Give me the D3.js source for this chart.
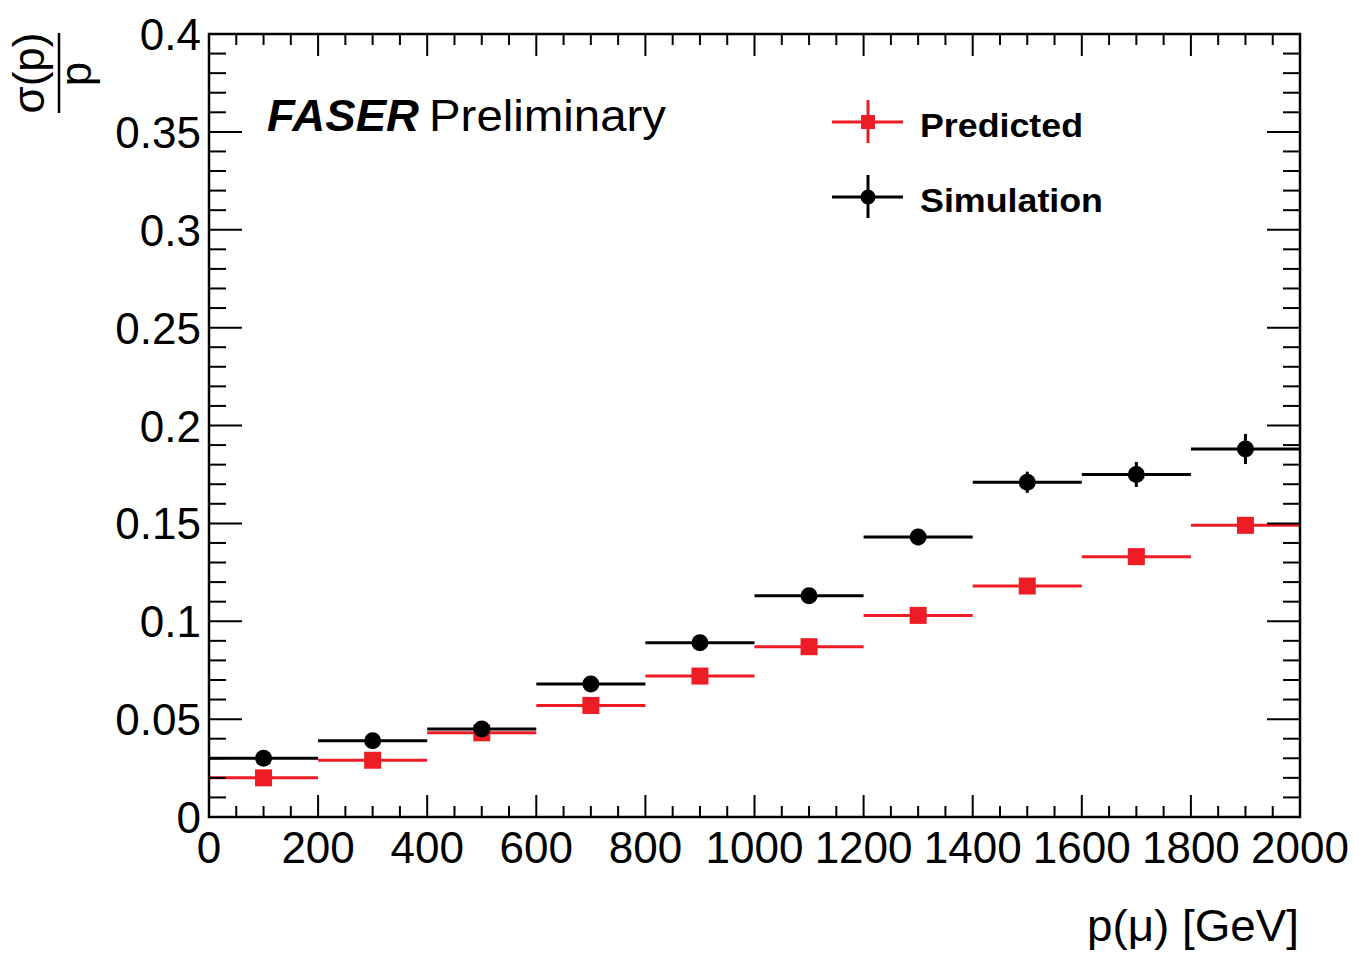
<!DOCTYPE html>
<html>
<head>
<meta charset="utf-8">
<script src="https://cdn.jsdelivr.net/npm/d3@7"></script>
<style>
  html, body { margin: 0; padding: 0; background: #ffffff; }
  svg { display: block; }
  text { font-family: "Liberation Sans", Arial, Helvetica, sans-serif; fill: #000; }
</style>
</head>
<body>
<svg id="chart" width="1359" height="954"></svg>
<script>
// ---------------- data ----------------
const binLow  = [0, 200, 400, 600, 800, 1000, 1200, 1400, 1600, 1800];
const binHigh = [200, 400, 600, 800, 1000, 1200, 1400, 1600, 1800, 2000];
const binCenter = [100, 300, 500, 700, 900, 1100, 1300, 1500, 1700, 1900];

const predicted    = [0.020, 0.029, 0.043, 0.057, 0.072, 0.087, 0.103, 0.118, 0.133, 0.149];
const predictedErr = [0, 0, 0, 0, 0, 0, 0, 0, 0, 0];
const simulation    = [0.030, 0.039, 0.045, 0.068, 0.089, 0.113, 0.143, 0.171, 0.175, 0.188];
const simulationErr = [0.001, 0.0015, 0.002, 0.0025, 0.003, 0.0035, 0.0042, 0.0054, 0.0064, 0.0077];

const xTickLabels = [0, 200, 400, 600, 800, 1000, 1200, 1400, 1600, 1800, 2000];
const yTickLabels = [0, 0.05, 0.1, 0.15, 0.2, 0.25, 0.3, 0.35, 0.4];
const xMinorStep = 50;
const yMinorStep = 0.01;

const seriesNames = ["Predicted", "Simulation"];
const RED = "#ee1c24";
const BLACK = "#000000";

// ---------------- layout ----------------
const svg = d3.select("#chart");
const pLeft = 209, pRight = 1300, pTop = 34, pBottom = 817;

const x = d3.scaleLinear().domain([0, 2000]).range([pLeft, pRight]);
const y = d3.scaleLinear().domain([0, 0.4]).range([pBottom, pTop]);

const rows = binLow.map((lo, i) => ({
  lo, hi: binHigh[i], c: binCenter[i],
  pv: predicted[i], pe: predictedErr[i],
  sv: simulation[i], se: simulationErr[i]
}));

// ---------------- Predicted series (red squares) ----------------
const gP = svg.append("g");
gP.selectAll("line.h").data(rows).join("line")
  .attr("x1", d => x(d.lo)).attr("x2", d => x(d.hi))
  .attr("y1", d => y(d.pv)).attr("y2", d => y(d.pv))
  .attr("stroke", RED).attr("stroke-width", 3);
gP.selectAll("line.v").data(rows.filter(d => d.pe > 0)).join("line")
  .attr("x1", d => x(d.c)).attr("x2", d => x(d.c))
  .attr("y1", d => y(d.pv - d.pe)).attr("y2", d => y(d.pv + d.pe))
  .attr("stroke", RED).attr("stroke-width", 3);
const sq = 17;
gP.selectAll("rect").data(rows).join("rect")
  .attr("x", d => x(d.c) - sq / 2).attr("y", d => y(d.pv) - sq / 2)
  .attr("width", sq).attr("height", sq)
  .attr("fill", RED);

// ---------------- Simulation series (black circles) ----------------
const gS = svg.append("g");
gS.selectAll("line.h").data(rows).join("line")
  .attr("x1", d => x(d.lo)).attr("x2", d => x(d.hi))
  .attr("y1", d => y(d.sv)).attr("y2", d => y(d.sv))
  .attr("stroke", BLACK).attr("stroke-width", 3);
gS.selectAll("line.v").data(rows).join("line")
  .attr("x1", d => x(d.c)).attr("x2", d => x(d.c))
  .attr("y1", d => y(d.sv - d.se)).attr("y2", d => y(d.sv + d.se))
  .attr("stroke", BLACK).attr("stroke-width", 3);
gS.selectAll("circle").data(rows).join("circle")
  .attr("cx", d => x(d.c)).attr("cy", d => y(d.sv))
  .attr("r", 8.5).attr("fill", BLACK);

// ---------------- axes / frame ----------------
const gA = svg.append("g").attr("stroke", "#000");
const xMajor = xTickLabels;
const xMinor = d3.range(0, 2000 + 1, xMinorStep).filter(v => xMajor.indexOf(v) < 0);
const yMajor = yTickLabels;
const yMinor = d3.range(0, 41, 1).map(i => i * yMinorStep)
  .filter(v => !yMajor.some(m => Math.abs(m - v) < 1e-9));

function xTicks(vals, len) {
  vals.forEach(v => {
    gA.append("line").attr("x1", x(v)).attr("x2", x(v)).attr("y1", pBottom).attr("y2", pBottom - len).attr("stroke-width", 2);
    gA.append("line").attr("x1", x(v)).attr("x2", x(v)).attr("y1", pTop).attr("y2", pTop + len).attr("stroke-width", 2);
  });
}
function yTicks(vals, len) {
  vals.forEach(v => {
    gA.append("line").attr("y1", y(v)).attr("y2", y(v)).attr("x1", pLeft).attr("x2", pLeft + len).attr("stroke-width", 2);
    gA.append("line").attr("y1", y(v)).attr("y2", y(v)).attr("x1", pRight).attr("x2", pRight - len).attr("stroke-width", 2);
  });
}
xTicks(xMinor, 11);
xTicks(xMajor, 22);
yTicks(yMinor, 17);
yTicks(yMajor, 33);

gA.append("rect").attr("x", pLeft).attr("y", pTop)
  .attr("width", pRight - pLeft).attr("height", pBottom - pTop)
  .attr("fill", "none").attr("stroke-width", 2.5);

// tick labels
const fmt = v => String(+v.toFixed(2));
svg.append("g").selectAll("text").data(xMajor).join("text")
  .attr("x", d => x(d)).attr("y", 863)
  .attr("text-anchor", "middle")
  .attr("font-size", 44)
  .text(d => fmt(d));
svg.append("g").selectAll("text").data(yMajor).join("text")
  .attr("x", 201).attr("y", d => y(d) + 16)
  .attr("text-anchor", "end")
  .attr("font-size", 44)
  .text(d => fmt(d));

// axis titles
svg.append("text")
  .attr("x", 1299).attr("y", 941)
  .attr("text-anchor", "end")
  .attr("font-size", 44)
  .attr("textLength", 212).attr("lengthAdjust", "spacingAndGlyphs")
  .text("p(\u03BC) [GeV]");

const yt = svg.append("g");
yt.append("text")
  .attr("transform", "translate(44,73) rotate(-90)")
  .attr("text-anchor", "middle").attr("font-size", 44)
  .text("\u03C3(p)");
yt.append("line")
  .attr("x1", 59).attr("x2", 59).attr("y1", 33).attr("y2", 113)
  .attr("stroke", "#000").attr("stroke-width", 2.5);
yt.append("text")
  .attr("transform", "translate(91,74) rotate(-90)")
  .attr("text-anchor", "middle").attr("font-size", 44)
  .text("p");

// FASER Preliminary
const lab = svg.append("text").attr("x", 267).attr("y", 131).attr("font-size", 44);
lab.append("tspan").attr("font-weight", "bold").attr("font-style", "italic")
  .attr("textLength", 152).attr("lengthAdjust", "spacingAndGlyphs").text("FASER");
lab.append("tspan").attr("dx", 10)
  .attr("textLength", 237).attr("lengthAdjust", "spacingAndGlyphs").text("Preliminary");

// legend
const legend = [
  { name: seriesNames[0], color: RED, shape: "square", cy: 122, tw: 163 },
  { name: seriesNames[1], color: BLACK, shape: "circle", cy: 197, tw: 183 }
];
const lg = svg.append("g");
legend.forEach(l => {
  lg.append("line").attr("x1", 832).attr("x2", 903).attr("y1", l.cy).attr("y2", l.cy)
    .attr("stroke", l.color).attr("stroke-width", 3);
  lg.append("line").attr("x1", 868).attr("x2", 868).attr("y1", l.cy - 22).attr("y2", l.cy + 21)
    .attr("stroke", l.color).attr("stroke-width", 3);
  if (l.shape === "square") {
    lg.append("rect").attr("x", 868 - 7).attr("y", l.cy - 7).attr("width", 14).attr("height", 14).attr("fill", l.color);
  } else {
    lg.append("circle").attr("cx", 868).attr("cy", l.cy).attr("r", 7.5).attr("fill", l.color);
  }
  lg.append("text").attr("x", 920).attr("y", l.cy + 15)
    .attr("font-size", 33).attr("font-weight", "bold")
    .attr("textLength", l.tw).attr("lengthAdjust", "spacingAndGlyphs")
    .text(l.name);
});
</script>
</body>
</html>
